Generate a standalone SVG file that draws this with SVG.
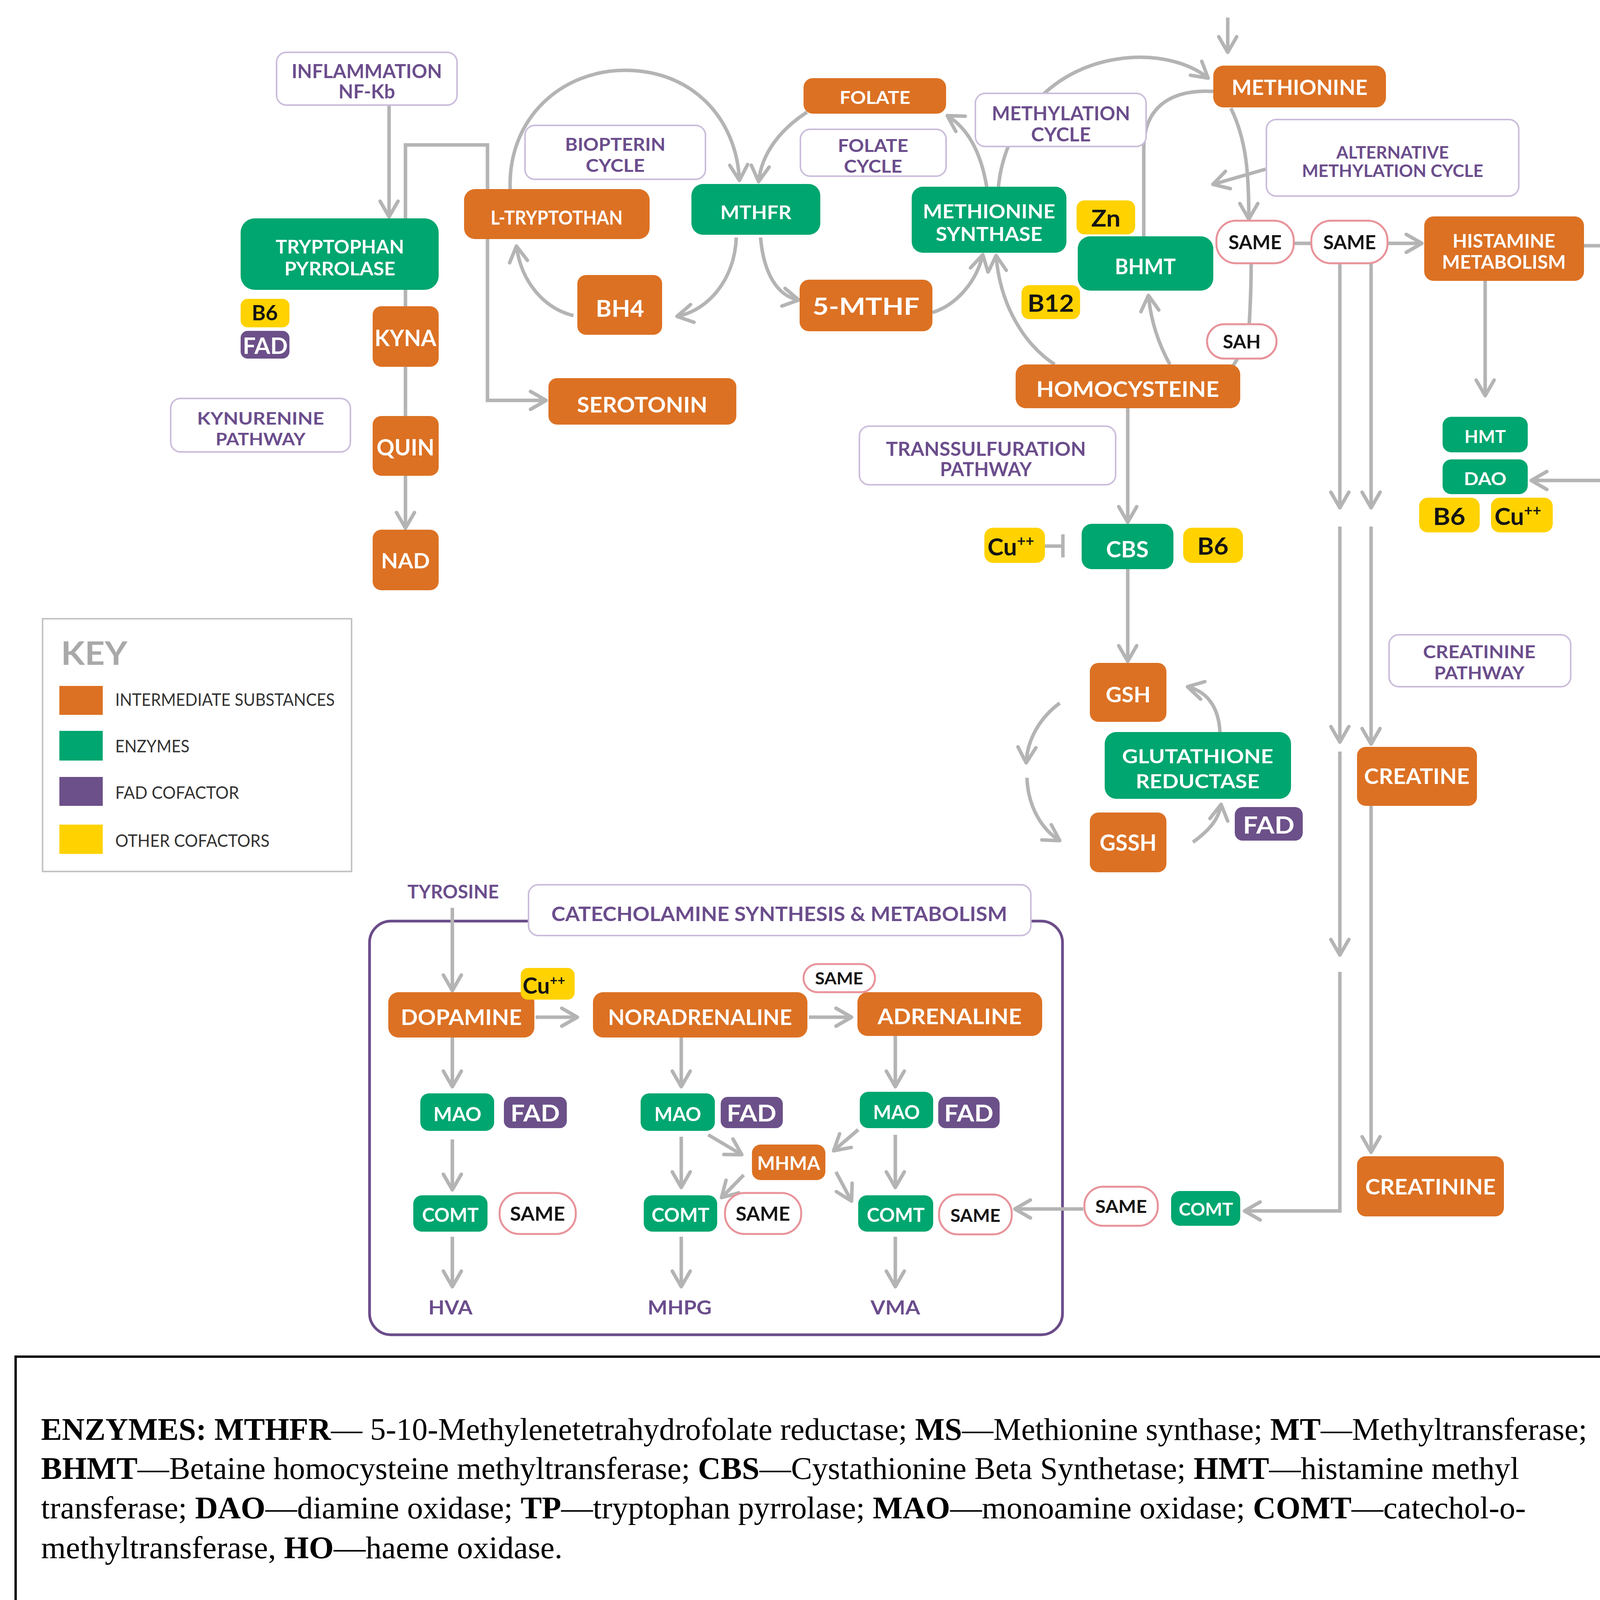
<svg xmlns="http://www.w3.org/2000/svg" width="4245" height="5241" viewBox="0 0 4245 5241">
<defs>
<style>
.o{fill:#dc7123}
.g{fill:#00a66f}
.y{fill:#ffd200}
.p{fill:#6c5089}
.lb{fill:#fff;stroke:#cbbddb;stroke-width:4}
.pill{fill:#fff;stroke:#e8939a;stroke-width:5}
.c{fill:none;stroke:#b4b4b4;stroke-width:9}
.t{font-family:Lato,'Open Sans','DejaVu Sans',sans-serif;font-weight:700;text-anchor:middle}
.ts{font-family:Lato,'Open Sans','DejaVu Sans',sans-serif;font-weight:700}
.w{fill:#fff}
.k{fill:#141414}
.pu{fill:#6b4d8c}
.key{font-family:Lato,'Open Sans',sans-serif;font-weight:400;fill:#333;font-size:44px}
.lg{font-family:'Liberation Serif','Times New Roman',serif;font-size:80px;fill:#000}
.b{font-weight:700}
</style>
<marker id="ah" markerUnits="userSpaceOnUse" viewBox="-50 -30 60 60" markerWidth="60" markerHeight="60" refX="0" refY="0" orient="auto" overflow="visible">
<path d="M-40,-23 L0,0 L-40,23" fill="none" stroke="#b4b4b4" stroke-width="9" stroke-linecap="round" stroke-linejoin="round"/>
</marker>
</defs>
<rect x="0" y="0" width="4245" height="5241" fill="#fff"/>

<g id="catecholamine-frame">
<rect x="946" y="2358" width="1774" height="1059" rx="55" fill="none" stroke="#6b4c8a" stroke-width="7"/>
</g>

<g id="connectors">
<path class="c" d="M996 269 V555" marker-end="url(#ah)"/>
<path class="c" d="M1248 484 V371 H1038 V559"/>
<path class="c" d="M1038 742 V784"/>
<path class="c" d="M1038 939 V1065"/>
<path class="c" d="M1038 1218 V1352" marker-end="url(#ah)"/>
<path class="c" d="M1248 612 V1025 H1398" marker-end="url(#ah)"/>
<path class="c" d="M1306 484 C1300 300 1440 180 1600 180 C1770 180 1885 300 1893 462" marker-end="url(#ah)"/>
<path class="c" d="M1885 608 C1880 720 1810 795 1733 810" marker-end="url(#ah)"/>
<path class="c" d="M1468 808 C1395 790 1335 725 1322 630" marker-end="url(#ah)"/>
<path class="c" d="M2066 287 C2000 330 1950 390 1942 465" marker-end="url(#ah)"/>
<path class="c" d="M1947 608 C1955 700 1990 758 2045 768" marker-end="url(#ah)"/>
<path class="c" d="M2387 800 C2450 780 2500 720 2516 652" marker-end="url(#ah)"/>
<path class="c" d="M2526 478 C2512 395 2480 330 2425 296" marker-end="url(#ah)"/>
<path class="c" d="M2556 478 C2570 330 2680 160 2900 147 C2980 143 3050 165 3093 200" marker-end="url(#ah)"/>
<path class="c" d="M3143 45 V134" marker-end="url(#ah)"/>
<path class="c" d="M3106 234 C2990 228 2928 280 2928 380 V605"/>
<path class="c" d="M3151 277 C3192 360 3197 450 3197 561" marker-end="url(#ah)"/>
<path class="c" d="M3240 433 L3105 472" marker-end="url(#ah)"/>
<path class="c" d="M3312 623 H3357"/>
<path class="c" d="M3552 623 H3640" marker-end="url(#ah)"/>
<path class="c" d="M3203 674 C3203 750 3200 790 3198 830"/>
<path class="c" d="M3168 918 L3157 936"/>
<path class="c" d="M2995 933 C2960 870 2945 810 2940 756" marker-end="url(#ah)"/>
<path class="c" d="M2700 933 C2620 880 2560 780 2550 654" marker-end="url(#ah)"/>
<path class="c" d="M2887 1045 V1337" marker-end="url(#ah)"/>
<path class="c" d="M2675 1398 H2721 M2721 1368 V1427"/>
<path class="c" d="M2887 1457 V1693" marker-end="url(#ah)"/>
<path class="c" d="M2713 1800 C2665 1835 2630 1890 2627 1953" marker-end="url(#ah)"/>
<path class="c" d="M2629 1991 C2632 2070 2670 2125 2713 2152" marker-end="url(#ah)"/>
<path class="c" d="M3054 2156 C3090 2130 3120 2100 3126 2059" marker-end="url(#ah)"/>
<path class="c" d="M3123 1874 C3120 1810 3090 1770 3040 1758" marker-end="url(#ah)"/>
<path class="c" d="M3802 719 V1013" marker-end="url(#ah)"/>
<path class="c" d="M4055 629 H4150 V1230 H3920" marker-end="url(#ah)"/>
<path class="c" d="M3430 674 V1300" marker-end="url(#ah)"/>
<path class="c" d="M3430 1348 V1900" marker-end="url(#ah)"/>
<path class="c" d="M3430 1924 V2445" marker-end="url(#ah)"/>
<path class="c" d="M3430 2488 V3100 H3186" marker-end="url(#ah)"/>
<path class="c" d="M3510 674 V1300" marker-end="url(#ah)"/>
<path class="c" d="M3510 1348 V1905" marker-end="url(#ah)"/>
<path class="c" d="M3510 2063 V2950" marker-end="url(#ah)"/>
<path class="c" d="M2773 3095 H2598" marker-end="url(#ah)"/>
<path class="c" d="M1158 2324 V2536" marker-end="url(#ah)"/>
<path class="c" d="M1371 2604 H1478" marker-end="url(#ah)"/>
<path class="c" d="M2071 2604 H2180" marker-end="url(#ah)"/>
<path class="c" d="M1158 2656 V2782" marker-end="url(#ah)"/>
<path class="c" d="M1158 2917 V3046" marker-end="url(#ah)"/>
<path class="c" d="M1158 3166 V3294" marker-end="url(#ah)"/>
<path class="c" d="M1744 2656 V2782" marker-end="url(#ah)"/>
<path class="c" d="M1744 2910 V3040" marker-end="url(#ah)"/>
<path class="c" d="M1744 3166 V3294" marker-end="url(#ah)"/>
<path class="c" d="M2292 2652 V2782" marker-end="url(#ah)"/>
<path class="c" d="M2292 2905 V3040" marker-end="url(#ah)"/>
<path class="c" d="M2292 3166 V3294" marker-end="url(#ah)"/>
<path class="c" d="M1813 2905 L1899 2956" marker-end="url(#ah)"/>
<path class="c" d="M2197 2892 L2134 2946" marker-end="url(#ah)"/>
<path class="c" d="M1904 3008 L1847 3066" marker-end="url(#ah)"/>
<path class="c" d="M2140 3000 L2180 3075" marker-end="url(#ah)"/>
</g>

<!-- pathway labels -->
<g id="lbl-inflammation"><rect class="lb" x="708" y="134" width="462" height="135" rx="25"/><text class="t pu" x="939" y="200" font-size="50" textLength="385" lengthAdjust="spacingAndGlyphs">INFLAMMATION</text><text class="t pu" x="939" y="252" font-size="50" textLength="145" lengthAdjust="spacingAndGlyphs">NF-Kb</text></g>
<g id="lbl-kynurenine"><rect class="lb" x="437" y="1020" width="460" height="137" rx="25"/><text class="t pu" x="667" y="1087" font-size="44" textLength="325" lengthAdjust="spacingAndGlyphs">KYNURENINE</text><text class="t pu" x="667" y="1140" font-size="44" textLength="230" lengthAdjust="spacingAndGlyphs">PATHWAY</text></g>
<g id="lbl-biopterin"><rect class="lb" x="1344" y="321" width="462" height="138" rx="25"/><text class="t pu" x="1575" y="386" font-size="45" textLength="257" lengthAdjust="spacingAndGlyphs">BIOPTERIN</text><text class="t pu" x="1575" y="440" font-size="45" textLength="151" lengthAdjust="spacingAndGlyphs">CYCLE</text></g>
<g id="lbl-folate-cycle"><rect class="lb" x="2049" y="331" width="373" height="120" rx="25"/><text class="t pu" x="2235" y="389" font-size="46" textLength="180" lengthAdjust="spacingAndGlyphs">FOLATE</text><text class="t pu" x="2235" y="442" font-size="46" textLength="149" lengthAdjust="spacingAndGlyphs">CYCLE</text></g>
<g id="lbl-methylation"><rect class="lb" x="2497" y="239" width="437" height="136" rx="25"/><text class="t pu" x="2716" y="308" font-size="50" textLength="354" lengthAdjust="spacingAndGlyphs">METHYLATION</text><text class="t pu" x="2716" y="362" font-size="50" textLength="153" lengthAdjust="spacingAndGlyphs">CYCLE</text></g>
<g id="lbl-alt-methylation"><rect class="lb" x="3242" y="306" width="646" height="196" rx="25"/><text class="t pu" x="3565" y="406" font-size="44" textLength="288" lengthAdjust="spacingAndGlyphs">ALTERNATIVE</text><text class="t pu" x="3565" y="453" font-size="44" textLength="464" lengthAdjust="spacingAndGlyphs">METHYLATION CYCLE</text></g>
<g id="lbl-transsulfuration"><rect class="lb" x="2200" y="1091" width="656" height="150" rx="25"/><text class="t pu" x="2524" y="1167" font-size="50" textLength="512" lengthAdjust="spacingAndGlyphs">TRANSSULFURATION</text><text class="t pu" x="2524" y="1219" font-size="50" textLength="235" lengthAdjust="spacingAndGlyphs">PATHWAY</text></g>
<g id="lbl-creatinine"><rect class="lb" x="3556" y="1625" width="465" height="133" rx="25"/><text class="t pu" x="3787" y="1685" font-size="46" textLength="288" lengthAdjust="spacingAndGlyphs">CREATININE</text><text class="t pu" x="3787" y="1739" font-size="46" textLength="231" lengthAdjust="spacingAndGlyphs">PATHWAY</text></g>
<g id="lbl-catecholamine"><rect class="lb" x="1353" y="2265" width="1286" height="130" rx="25"/><text class="t pu" x="1995" y="2358" font-size="52" textLength="1167" lengthAdjust="spacingAndGlyphs">CATECHOLAMINE SYNTHESIS &amp; METABOLISM</text></g>
<g id="lbl-tyrosine"><text class="t pu" x="1160" y="2300" font-size="48" textLength="234" lengthAdjust="spacingAndGlyphs">TYROSINE</text></g>
<g id="lbl-hva"><text class="t pu" x="1153" y="3365" font-size="50" textLength="113" lengthAdjust="spacingAndGlyphs">HVA</text></g>
<g id="lbl-mhpg"><text class="t pu" x="1740" y="3365" font-size="50" textLength="164" lengthAdjust="spacingAndGlyphs">MHPG</text></g>
<g id="lbl-vma"><text class="t pu" x="2292" y="3365" font-size="50" textLength="127" lengthAdjust="spacingAndGlyphs">VMA</text></g>

<!-- orange nodes -->
<g id="n-ltryptothan"><rect class="o" x="1188" y="484" width="475" height="128" rx="28"/><text class="t w" x="1425" y="575" font-size="50" textLength="338" lengthAdjust="spacingAndGlyphs">L-TRYPTOTHAN</text></g>
<g id="n-bh4"><rect class="o" x="1478" y="704" width="217" height="153" rx="22"/><text class="t w" x="1587" y="811" font-size="60" textLength="124" lengthAdjust="spacingAndGlyphs">BH4</text></g>
<g id="n-serotonin"><rect class="o" x="1404" y="968" width="481" height="119" rx="22"/><text class="t w" x="1644" y="1056" font-size="56" textLength="334" lengthAdjust="spacingAndGlyphs">SEROTONIN</text></g>
<g id="n-folate"><rect class="o" x="2057" y="200" width="365" height="91" rx="24"/><text class="t w" x="2240" y="266" font-size="46" textLength="181" lengthAdjust="spacingAndGlyphs">FOLATE</text></g>
<g id="n-5mthf"><rect class="o" x="2047" y="716" width="340" height="132" rx="24"/><text class="t w" x="2217" y="806" font-size="62" textLength="274" lengthAdjust="spacingAndGlyphs">5-MTHF</text></g>
<g id="n-methionine"><rect class="o" x="3106" y="168" width="442" height="107" rx="26"/><text class="t w" x="3327" y="243" font-size="54" textLength="348" lengthAdjust="spacingAndGlyphs">METHIONINE</text></g>
<g id="n-homocysteine"><rect class="o" x="2600" y="933" width="575" height="112" rx="26"/><text class="t w" x="2887" y="1016" font-size="56" textLength="468" lengthAdjust="spacingAndGlyphs">HOMOCYSTEINE</text></g>
<g id="n-histamine"><rect class="o" x="3646" y="554" width="409" height="165" rx="24"/><text class="t w" x="3850" y="634" font-size="48" textLength="263" lengthAdjust="spacingAndGlyphs">HISTAMINE</text><text class="t w" x="3850" y="688" font-size="48" textLength="317" lengthAdjust="spacingAndGlyphs">METABOLISM</text></g>
<g id="n-kyna"><rect class="o" x="954" y="784" width="169" height="155" rx="22"/><text class="t w" x="1038" y="886" font-size="58" textLength="158" lengthAdjust="spacingAndGlyphs">KYNA</text></g>
<g id="n-quin"><rect class="o" x="954" y="1065" width="169" height="153" rx="22"/><text class="t w" x="1038" y="1166" font-size="58" textLength="148" lengthAdjust="spacingAndGlyphs">QUIN</text></g>
<g id="n-nad"><rect class="o" x="954" y="1356" width="169" height="155" rx="22"/><text class="t w" x="1038" y="1455" font-size="53" textLength="125" lengthAdjust="spacingAndGlyphs">NAD</text></g>
<g id="n-gsh"><rect class="o" x="2790" y="1697" width="196" height="151" rx="22"/><text class="t w" x="2888" y="1798" font-size="56" textLength="115" lengthAdjust="spacingAndGlyphs">GSH</text></g>
<g id="n-gssh"><rect class="o" x="2790" y="2080" width="196" height="153" rx="22"/><text class="t w" x="2888" y="2178" font-size="57" textLength="146" lengthAdjust="spacingAndGlyphs">GSSH</text></g>
<g id="n-creatine"><rect class="o" x="3474" y="1912" width="307" height="151" rx="22"/><text class="t w" x="3627" y="2007" font-size="56" textLength="270" lengthAdjust="spacingAndGlyphs">CREATINE</text></g>
<g id="n-creatinine"><rect class="o" x="3474" y="2960" width="376" height="154" rx="22"/><text class="t w" x="3662" y="3058" font-size="56" textLength="334" lengthAdjust="spacingAndGlyphs">CREATININE</text></g>
<g id="n-dopamine"><rect class="o" x="994" y="2540" width="374" height="116" rx="26"/><text class="t w" x="1181" y="2624" font-size="55" textLength="310" lengthAdjust="spacingAndGlyphs">DOPAMINE</text></g>
<g id="n-noradrenaline"><rect class="o" x="1518" y="2540" width="549" height="116" rx="26"/><text class="t w" x="1792" y="2624" font-size="55" textLength="471" lengthAdjust="spacingAndGlyphs">NORADRENALINE</text></g>
<g id="n-adrenaline"><rect class="o" x="2195" y="2540" width="473" height="112" rx="26"/><text class="t w" x="2431" y="2622" font-size="55" textLength="369" lengthAdjust="spacingAndGlyphs">ADRENALINE</text></g>
<g id="n-mhma"><rect class="o" x="1925" y="2930" width="188" height="91" rx="22"/><text class="t w" x="2019" y="2995" font-size="48" textLength="161" lengthAdjust="spacingAndGlyphs">MHMA</text></g>

<!-- green enzymes -->
<g id="n-tp"><rect class="g" x="616" y="559" width="507" height="183" rx="36"/><text class="t w" x="870" y="649" font-size="48" textLength="329" lengthAdjust="spacingAndGlyphs">TRYPTOPHAN</text><text class="t w" x="870" y="705" font-size="48" textLength="284" lengthAdjust="spacingAndGlyphs">PYRROLASE</text></g>
<g id="n-mthfr"><rect class="g" x="1770" y="471" width="330" height="130" rx="30"/><text class="t w" x="1935" y="561" font-size="48" textLength="182" lengthAdjust="spacingAndGlyphs">MTHFR</text></g>
<g id="n-ms"><rect class="g" x="2334" y="478" width="396" height="169" rx="28"/><text class="t w" x="2532" y="559" font-size="50" textLength="339" lengthAdjust="spacingAndGlyphs">METHIONINE</text><text class="t w" x="2532" y="617" font-size="50" textLength="273" lengthAdjust="spacingAndGlyphs">SYNTHASE</text></g>
<g id="n-bhmt"><rect class="g" x="2759" y="605" width="347" height="139" rx="32"/><text class="t w" x="2932" y="702" font-size="55" textLength="156" lengthAdjust="spacingAndGlyphs">BHMT</text></g>
<g id="n-cbs"><rect class="g" x="2769" y="1341" width="235" height="116" rx="26"/><text class="t w" x="2886" y="1427" font-size="58" textLength="109" lengthAdjust="spacingAndGlyphs">CBS</text></g>
<g id="n-gr"><rect class="g" x="2828" y="1874" width="477" height="171" rx="30"/><text class="t w" x="3066" y="1954" font-size="50" textLength="387" lengthAdjust="spacingAndGlyphs">GLUTATHIONE</text><text class="t w" x="3066" y="2018" font-size="50" textLength="317" lengthAdjust="spacingAndGlyphs">REDUCTASE</text></g>
<g id="n-hmt"><rect class="g" x="3693" y="1067" width="218" height="91" rx="22"/><text class="t w" x="3802" y="1134" font-size="46" textLength="106" lengthAdjust="spacingAndGlyphs">HMT</text></g>
<g id="n-dao"><rect class="g" x="3693" y="1176" width="218" height="89" rx="22"/><text class="t w" x="3802" y="1242" font-size="46" textLength="109" lengthAdjust="spacingAndGlyphs">DAO</text></g>
<g id="n-mao1"><rect class="g" x="1076" y="2799" width="189" height="96" rx="22"/><text class="t w" x="1171" y="2870" font-size="50" textLength="123" lengthAdjust="spacingAndGlyphs">MAO</text></g>
<g id="n-mao2"><rect class="g" x="1640" y="2799" width="190" height="96" rx="22"/><text class="t w" x="1735" y="2870" font-size="50" textLength="120" lengthAdjust="spacingAndGlyphs">MAO</text></g>
<g id="n-mao3"><rect class="g" x="2201" y="2795" width="188" height="93" rx="22"/><text class="t w" x="2295" y="2865" font-size="50" textLength="120" lengthAdjust="spacingAndGlyphs">MAO</text></g>
<g id="n-comt1"><rect class="g" x="1058" y="3060" width="190" height="93" rx="22"/><text class="t w" x="1153" y="3128" font-size="50" textLength="145" lengthAdjust="spacingAndGlyphs">COMT</text></g>
<g id="n-comt2"><rect class="g" x="1648" y="3060" width="188" height="93" rx="22"/><text class="t w" x="1742" y="3128" font-size="50" textLength="148" lengthAdjust="spacingAndGlyphs">COMT</text></g>
<g id="n-comt3"><rect class="g" x="2197" y="3060" width="192" height="93" rx="22"/><text class="t w" x="2293" y="3128" font-size="50" textLength="148" lengthAdjust="spacingAndGlyphs">COMT</text></g>
<g id="n-comt4"><rect class="g" x="2998" y="3049" width="177" height="89" rx="22"/><text class="t w" x="3087" y="3112" font-size="46" textLength="139" lengthAdjust="spacingAndGlyphs">COMT</text></g>

<!-- yellow cofactors -->
<g id="n-b6-tp"><rect class="y" x="616" y="765" width="125" height="73" rx="18"/><text class="t k" x="678" y="820" font-size="53" textLength="67" lengthAdjust="spacingAndGlyphs">B6</text></g>
<g id="n-zn"><rect class="y" x="2756" y="513" width="150" height="87" rx="20"/><text class="t k" x="2831" y="580" font-size="60" textLength="75" lengthAdjust="spacingAndGlyphs">Zn</text></g>
<g id="n-b12"><rect class="y" x="2615" y="730" width="150" height="87" rx="20"/><text class="t k" x="2690" y="798" font-size="62" textLength="119" lengthAdjust="spacingAndGlyphs">B12</text></g>
<g id="n-cu-cbs"><rect class="y" x="2520" y="1351" width="155" height="90" rx="22"/><text class="ts k" x="2528" y="1422" font-size="62">Cu<tspan dy="-24" font-size="38">++</tspan></text></g>
<g id="n-b6-cbs"><rect class="y" x="3029" y="1351" width="153" height="90" rx="22"/><text class="t k" x="3105" y="1420" font-size="62" textLength="80" lengthAdjust="spacingAndGlyphs">B6</text></g>
<g id="n-b6-hist"><rect class="y" x="3633" y="1274" width="155" height="89" rx="22"/><text class="t k" x="3710" y="1344" font-size="62" textLength="83" lengthAdjust="spacingAndGlyphs">B6</text></g>
<g id="n-cu-hist"><rect class="y" x="3817" y="1274" width="158" height="89" rx="22"/><text class="ts k" x="3826" y="1344" font-size="62">Cu<tspan dy="-24" font-size="38">++</tspan></text></g>
<g id="n-cu-dopa"><rect class="y" x="1333" y="2478" width="138" height="81" rx="18"/><text class="ts k" x="1338" y="2544" font-size="57">Cu<tspan dy="-22" font-size="34">++</tspan></text></g>

<!-- purple FAD -->
<g id="n-fad-tp"><rect class="p" x="616" y="847" width="125" height="71" rx="18"/><text class="t w" x="679" y="906" font-size="58" textLength="115" lengthAdjust="spacingAndGlyphs">FAD</text></g>
<g id="n-fad-gr"><rect class="p" x="3161" y="2066" width="174" height="86" rx="20"/><text class="t w" x="3248" y="2134" font-size="62" textLength="132" lengthAdjust="spacingAndGlyphs">FAD</text></g>
<g id="n-fad1"><rect class="p" x="1290" y="2808" width="161" height="80" rx="18"/><text class="t w" x="1370" y="2871" font-size="60" textLength="126" lengthAdjust="spacingAndGlyphs">FAD</text></g>
<g id="n-fad2"><rect class="p" x="1845" y="2808" width="159" height="80" rx="18"/><text class="t w" x="1924" y="2871" font-size="60" textLength="127" lengthAdjust="spacingAndGlyphs">FAD</text></g>
<g id="n-fad3"><rect class="p" x="2402" y="2808" width="157" height="80" rx="18"/><text class="t w" x="2480" y="2871" font-size="60" textLength="126" lengthAdjust="spacingAndGlyphs">FAD</text></g>

<!-- SAMe / SAH pills -->
<g id="n-same1"><rect class="pill" x="3114" y="565" width="198" height="109" rx="50"/><text class="t k" x="3213" y="638" font-size="50" textLength="136" lengthAdjust="spacingAndGlyphs">SAME</text></g>
<g id="n-same2"><rect class="pill" x="3357" y="565" width="195" height="109" rx="50"/><text class="t k" x="3455" y="638" font-size="50" textLength="135" lengthAdjust="spacingAndGlyphs">SAME</text></g>
<g id="n-sah"><rect class="pill" x="3090" y="830" width="178" height="88" rx="44"/><text class="t k" x="3179" y="892" font-size="48" textLength="97" lengthAdjust="spacingAndGlyphs">SAH</text></g>
<g id="n-same-cat"><rect class="pill" x="2057" y="2468" width="183" height="72" rx="36"/><text class="t k" x="2148" y="2520" font-size="42" textLength="123" lengthAdjust="spacingAndGlyphs">SAME</text></g>
<g id="n-same-c1"><rect class="pill" x="1279" y="3054" width="195" height="105" rx="50"/><text class="t k" x="1376" y="3125" font-size="50" textLength="141" lengthAdjust="spacingAndGlyphs">SAME</text></g>
<g id="n-same-c2"><rect class="pill" x="1856" y="3054" width="195" height="105" rx="50"/><text class="t k" x="1953" y="3125" font-size="50" textLength="139" lengthAdjust="spacingAndGlyphs">SAME</text></g>
<g id="n-same-c3"><rect class="pill" x="2404" y="3058" width="186" height="102" rx="48"/><text class="t k" x="2497" y="3128" font-size="46" textLength="128" lengthAdjust="spacingAndGlyphs">SAME</text></g>
<g id="n-same4"><rect class="pill" x="2776" y="3038" width="188" height="100" rx="48"/><text class="t k" x="2870" y="3105" font-size="46" textLength="132" lengthAdjust="spacingAndGlyphs">SAME</text></g>

<!-- KEY -->
<g id="key">
<rect x="109" y="1584" width="791" height="647" fill="#fff" stroke="#c4c4c4" stroke-width="4"/>
<text x="156" y="1702" font-family="Lato,'Open Sans',sans-serif" font-weight="700" font-size="82" fill="#a9a9a9" textLength="170" lengthAdjust="spacingAndGlyphs">KEY</text>
<rect class="o" x="152" y="1756" width="111" height="74"/>
<rect class="g" x="152" y="1871" width="111" height="76"/>
<rect class="p" x="152" y="1989" width="111" height="74"/>
<rect class="y" x="152" y="2111" width="111" height="75"/>
<text class="key" x="295" y="1807" textLength="562" lengthAdjust="spacingAndGlyphs">INTERMEDIATE SUBSTANCES</text>
<text class="key" x="295" y="1926" textLength="190" lengthAdjust="spacingAndGlyphs">ENZYMES</text>
<text class="key" x="295" y="2045" textLength="317" lengthAdjust="spacingAndGlyphs">FAD COFACTOR</text>
<text class="key" x="295" y="2168" textLength="395" lengthAdjust="spacingAndGlyphs">OTHER COFACTORS</text>
</g>

<!-- Abbreviations legend -->
<g id="legend">
<rect x="40" y="3473" width="4175" height="1709" fill="none" stroke="#000" stroke-width="6"/>
<text class="lg" x="105" y="3686" textLength="3958" lengthAdjust="spacingAndGlyphs"><tspan class="b">ENZYMES: MTHFR</tspan>— 5-10-Methylenetetrahydrofolate reductase; <tspan class="b">MS</tspan>—Methionine synthase; <tspan class="b">MT</tspan>—Methyltransferase;</text>
<text class="lg" x="105" y="3786" textLength="3784" lengthAdjust="spacingAndGlyphs"><tspan class="b">BHMT</tspan>—Betaine homocysteine methyltransferase; <tspan class="b">CBS</tspan>—Cystathionine Beta Synthetase; <tspan class="b">HMT</tspan>—histamine methyl</text>
<text class="lg" x="105" y="3887" textLength="3801" lengthAdjust="spacingAndGlyphs">transferase; <tspan class="b">DAO</tspan>—diamine oxidase; <tspan class="b">TP</tspan>—tryptophan pyrrolase; <tspan class="b">MAO</tspan>—monoamine oxidase; <tspan class="b">COMT</tspan>—catechol-o-</text>
<text class="lg" x="105" y="3989" textLength="1335" lengthAdjust="spacingAndGlyphs">methyltransferase, <tspan class="b">HO</tspan>—haeme oxidase.</text>
<text class="lg" x="105" y="4190" textLength="3531" lengthAdjust="spacingAndGlyphs"><tspan class="b">ENZYME CO-FACTORS</tspan>: <tspan class="b">5-MTHF</tspan>—5 methyl tetrahydrofolate; <tspan class="b">B2</tspan>—vitamin B2 (riboflavin); <tspan class="b">FMN</tspan>—flavin</text>
<text class="lg" x="105" y="4291" textLength="4004" lengthAdjust="spacingAndGlyphs">mononucleotide; <tspan class="b">FAD</tspan>—flavin adenine dinucleotide; <tspan class="b">B6</tspan>—vitamin B6 (pyridoxine); <tspan class="b">B12</tspan>—vitamin B12 (cobalamin); <tspan class="b">BH4</tspan>—</text>
<text class="lg" x="105" y="4392">tetrahydrobiopterin, <tspan class="b">Cu</tspan><tspan class="b" dy="-30" font-size="48">++</tspan><tspan dy="30">—free (unbound) copper (Cu), </tspan><tspan class="b">Zn</tspan>—zinc.</text>
<text class="lg" x="105" y="4593" textLength="4031" lengthAdjust="spacingAndGlyphs"><tspan class="b">INTERMEDIATE SUBSTRATES</tspan>: <tspan class="b">5-10-MTHF</tspan>—5-10-methylenetetrahydrofolate; <tspan class="b">SAMe</tspan>—S-adenosylmethionine; <tspan class="b">SAH</tspan>—</text>
<text class="lg" x="105" y="4693" textLength="4004" lengthAdjust="spacingAndGlyphs">S-adenosylhomocysteine; <tspan class="b">5HIAA</tspan>—5-hydroxyindoleacetic acid; <tspan class="b">MHMA</tspan>—3-methoxy-4-hydroxymandelic acid; <tspan class="b">HVA</tspan>—</text>
<text class="lg" x="105" y="4795" textLength="4025" lengthAdjust="spacingAndGlyphs">homovanillic acid; <tspan class="b">MHPG</tspan>—4-hydroxy-3-methoxyphenylglycol; <tspan class="b">VMA</tspan>—Vanillylmandelic acid; <tspan class="b">DMG</tspan>—dimethylglycine;</text>
<text class="lg" x="105" y="4896" textLength="3981" lengthAdjust="spacingAndGlyphs"><tspan class="b">TMG</tspan>—Trimethylglycine (betaine); <tspan class="b">DMG</tspan>—Dimethylglycine; <tspan class="b">KYNA</tspan>—kynurenic acid; <tspan class="b">QUIN</tspan>—Quinolinic acid; <tspan class="b">NAD</tspan>—</text>
<text class="lg" x="105" y="4997" textLength="3818" lengthAdjust="spacingAndGlyphs">nicotinamide (niacinamide); <tspan class="b">GSH</tspan>—Glutathione (reduced, active anti-oxidant form); <tspan class="b">GSSH</tspan>—Glutathione (oxidized</text>
<text class="lg" x="105" y="5099">form).</text>
</g>
</svg>
